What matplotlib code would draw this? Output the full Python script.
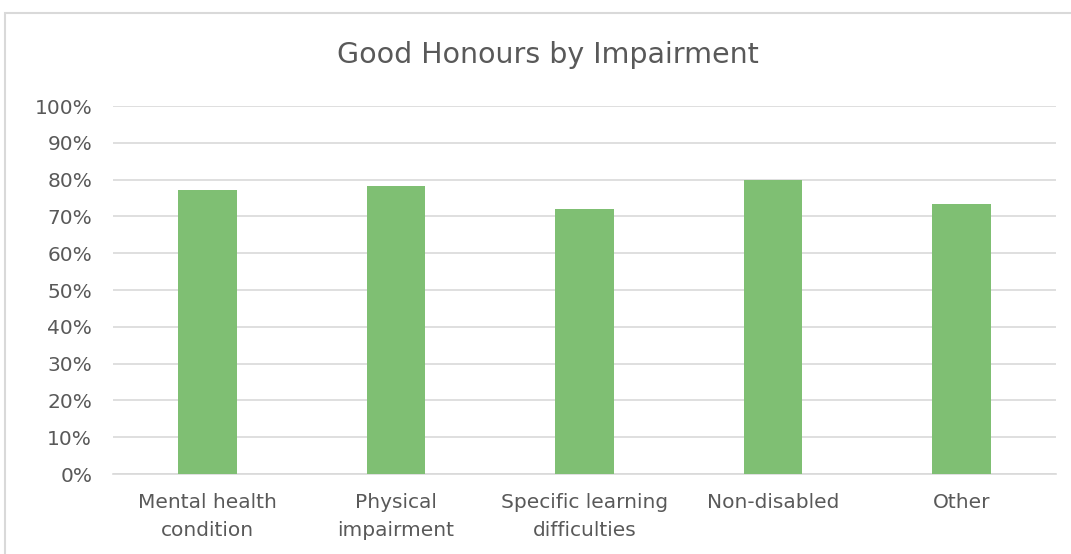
import numpy as np
import matplotlib
matplotlib.use("Agg")
import matplotlib.pyplot as plt
from matplotlib.patches import Rectangle
from matplotlib.ticker import PercentFormatter

# Данные
categories = ["Mental health\ncondition", "Physical\nimpairment", "Specific learning\ndifficulties",
              "Non-disabled", "Other"]
good_honours = [77.1, 78.3, 72.0, 80.0, 73.3]

text_color = "#595959"
grid_color = "#d9d9d9"
bar_color = "#7fbf73"

plt.rcParams['font.family'] = ['DejaVu Sans']

fig = plt.figure(figsize=(10.71, 5.54), dpi=100)
ax = fig.add_axes([113 / 1071, 1 - 474 / 554, (1056 - 113) / 1071, (474 - 106) / 554])

# рамка вокруг диаграммы
fig.patches.append(Rectangle((5 / 1071, -0.1), 1.2, 1 - 13 / 554 + 0.1, transform=fig.transFigure,
                             fill=False, edgecolor=grid_color, linewidth=1.5))

x = np.arange(len(categories))
ax.bar(x, good_honours, width=0.31, color=bar_color, zorder=3)

ax.set_xlim(-0.5, len(categories) - 0.5)
ax.set_ylim(0, 100)
ax.set_yticks(np.arange(0, 101, 10))
ax.yaxis.set_major_formatter(PercentFormatter(decimals=0))
ax.set_xticks(x)
ax.set_xticklabels(categories, linespacing=1.56)

ax.grid(axis='y', color=grid_color, linewidth=1.2, zorder=0)
for s in ['top', 'right', 'left']:
    ax.spines[s].set_visible(False)
ax.spines['bottom'].set_color(grid_color)
ax.spines['bottom'].set_linewidth(1.2)
ax.tick_params(axis='both', length=0, labelsize=14.5, colors=text_color)
ax.tick_params(axis='x', pad=14)
ax.tick_params(axis='y', pad=15)

fig.text(548 / 1071, 1 - 55 / 554, "Good Honours by Impairment", ha='center', va='center',
         fontsize=20.5, color=text_color)

fig.savefig("out.png", dpi=100)
